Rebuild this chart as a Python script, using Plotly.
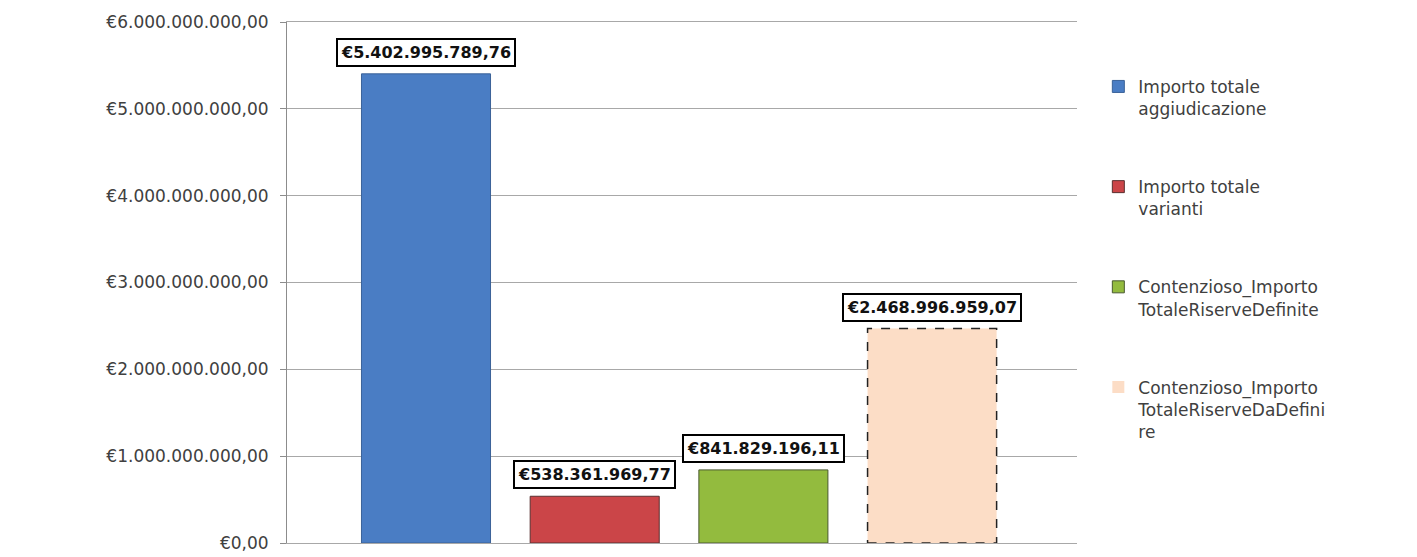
import plotly.graph_objects as go

series_names = [
    "Importo totale<br>aggiudicazione",
    "Importo totale<br>varianti",
    "Contenzioso_Importo<br>TotaleRiserveDefinite",
    "Contenzioso_Importo<br>TotaleRiserveDaDefini<br>re",
]
values = [5402995789.76, 538361969.77, 841829196.11, 2468996959.07]
value_labels = ["€5.402.995.789,76", "€538.361.969,77", "€841.829.196,11", "€2.468.996.959,07"]
colors = ["#4A7DC4", "#CB4548", "#93BB3E", "#FCDDC6"]
line_colors = ["#3A6298", "#5A3030", "#4A5A30", "rgba(0,0,0,0)"]
tick_vals = [0, 1e9, 2e9, 3e9, 4e9, 5e9, 6e9]
tick_text = ["€0,00", "€1.000.000.000,00", "€2.000.000.000,00", "€3.000.000.000,00",
             "€4.000.000.000,00", "€5.000.000.000,00", "€6.000.000.000,00"]

bar_w = 0.765
fig = go.Figure()
for i, (n, v) in enumerate(zip(series_names, values)):
    fig.add_trace(go.Bar(
        x=[i], y=[v], width=[bar_w], name=n,
        marker=dict(color=colors[i], line=dict(color=line_colors[i], width=1)),
        legendgroup=f"g{i}", showlegend=True,
    ))
    fig.add_annotation(
        x=i, y=v, xref="x", yref="y", text=f"<b>{value_labels[i]}</b>",
        showarrow=False, yanchor="bottom", yshift=7,
        font=dict(family="DejaVu Sans", size=16, color="#111111"),
        bordercolor="#000000", borderwidth=2, borderpad=3, bgcolor="white",
    )

# dashed outline for the last series
i = 3
fig.add_shape(type="rect", xref="x", yref="y",
              x0=i - bar_w / 2, x1=i + bar_w / 2, y0=0, y1=values[i],
              line=dict(color="#222222", width=1.5, dash="dash"))

fig.update_layout(
    width=1417, height=557,
    margin=dict(l=287, r=340, t=22, b=14, autoexpand=False),
    paper_bgcolor="white", plot_bgcolor="white",
    barmode="overlay",
    showlegend=True,
    legend=dict(
        x=1.027, y=0.91, xanchor="left", yanchor="top",
        font=dict(family="DejaVu Sans", size=17, color="#404040"),
        tracegroupgap=53, traceorder="grouped", valign="top",
        itemwidth=30,
    ),
    font=dict(family="DejaVu Sans", color="#404040"),
)
fig.update_xaxes(range=[-0.824, 3.859], showticklabels=False, showgrid=False,
                 zeroline=False, showline=True, mirror=True, linecolor="#A8A8A8",
                 linewidth=1, ticks="", automargin=False)
fig.update_yaxes(range=[0, 6e9], tickvals=tick_vals, ticktext=tick_text,
                 showgrid=True, gridcolor="#A8A8A8", gridwidth=1,
                 zeroline=True, zerolinecolor="#A8A8A8", zerolinewidth=1,
                 showline=True, linecolor="#8C8C8C", linewidth=1,
                 ticks="outside", ticklen=6, tickcolor="#8C8C8C",
                 tickfont=dict(family="DejaVu Sans", size=17, color="#404040"),
                 ticklabelstandoff=8, automargin=False)

fig.write_html(
    "out.html",
    config={"displayModeBar": False},
    post_script="document.body.style.margin='0';document.body.style.overflow='hidden';",
)
